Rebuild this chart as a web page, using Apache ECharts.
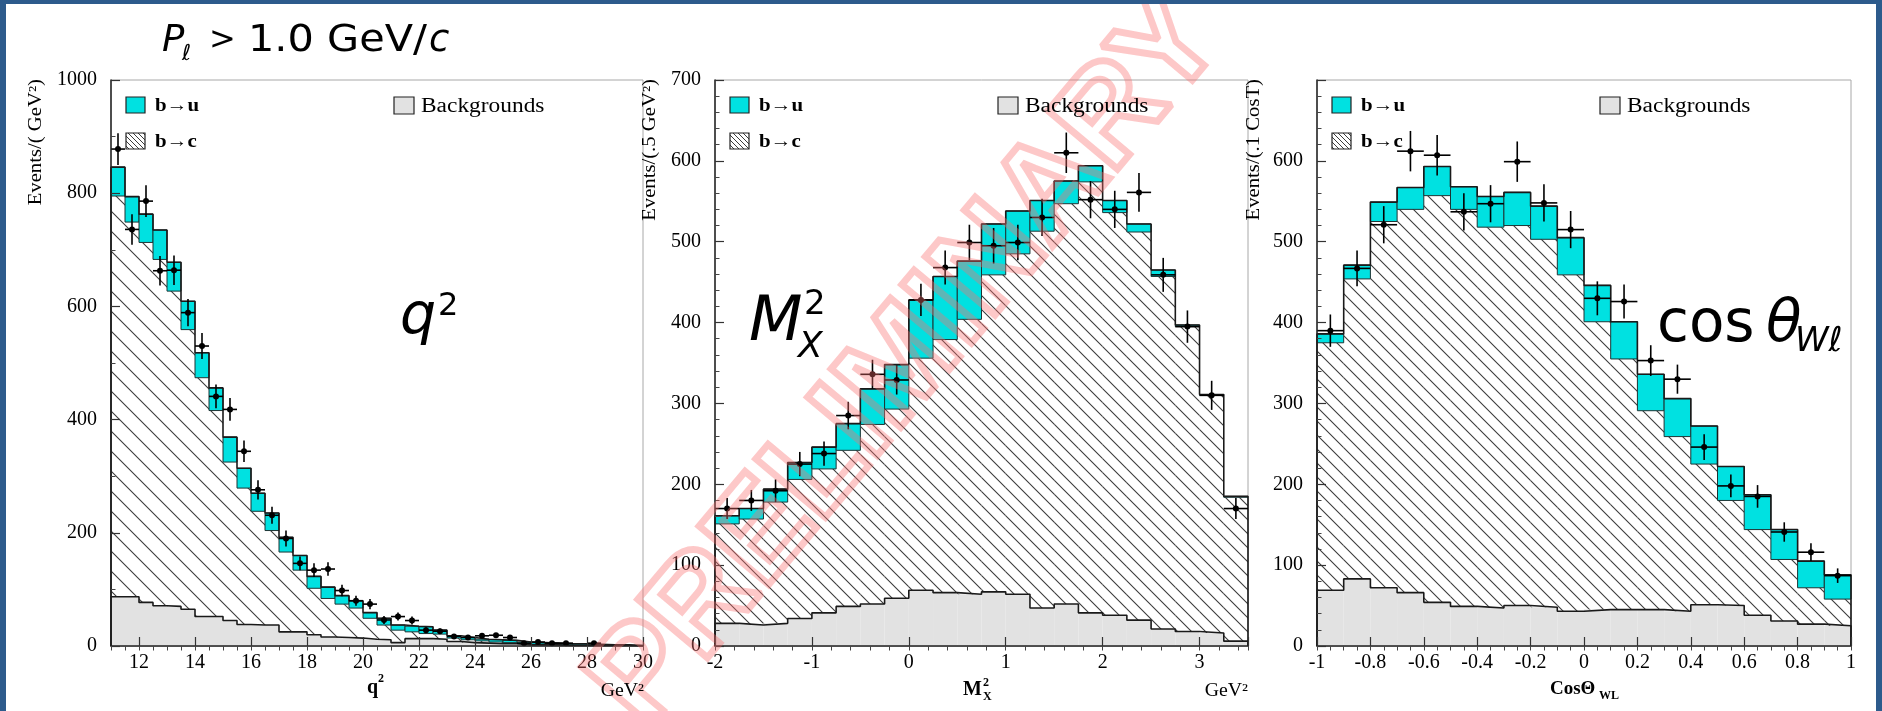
<!DOCTYPE html>
<html>
<head>
<meta charset="utf-8">
<script src="https://cdn.jsdelivr.net/npm/echarts@6.0.0/dist/echarts.min.js"></script>
<style>
html,body{margin:0;padding:0;background:#ffffff;}
#chart{width:1882px;height:711px;}
</style>
</head>
<body>
<div id="chart"></div>
<script>
// ================= DATA =================
// Panel 1: q^2 (bins of 0.5 GeV^2 starting at 11)
const q2BinStart = 11, q2BinWidth = 0.5;
const q2Bkg  = [87,87,77,71,70,65,52,52,45,38,37,37,25,25,20,16,15,14,12,11,6,13,13,12,8,6,5,4,4,2,2,2,1,1,1,1,1,0];
const q2BtoC = [708,662,636,612,557,494,422,364,280,241,201,167,141,109,82,68,59,53,37,26,22,12,9,9,6,5,4,3,2,2,1,1,1,1,1,0,0,1];
const q2BtoU = [51,45,50,52,51,50,44,40,44,35,32,31,26,26,21,20,15,13,10,12,9,10,12,7,4,4,3,4,4,3,3,2,2,2,1,1,1,0];
const q2Data = [878,736,786,663,664,589,530,441,418,344,276,231,190,146,134,136,98,80,74,46,52,45,28,26,17,15,18,19,15,5,7,5,5,null,5,null,null,null];
const q2Err  = [28,27,28,26,26,24,23,21,20,19,17,15,14,12,12,12,10,9,9,7,7,7,5,5,4,4,4,4,4,2,3,2,2,null,2,null,null,null];
const q2TickLabels = [12,14,16,18,20,22,24,26,28,30];

// Panel 2: M_X^2 (bins of 0.25 GeV^2 starting at -2)
const mxBinStart = -2, mxBinWidth = 0.25;
const mxBkg  = [28,26,28,34,41,49,52,59,69,66,64,67,64,47,52,41,38,32,21,18,16,6];
const mxBtoC = [123,131,150,172,178,193,222,234,287,313,340,392,421,466,495,533,498,480,436,377,294,178];
const mxBtoU = [10,13,16,21,27,33,44,55,72,78,72,63,53,38,28,20,15,10,8,2,1,1];
const mxData = [170,180,192,225,238,285,336,329,428,468,499,495,499,530,610,552,540,561,459,395,310,170];
const mxErr  = [13,13,14,15,15,17,18,18,20,21,22,22,22,23,25,23,23,24,21,20,18,13];

// Panel 3: cos(theta_Wl) (bins of 0.1 starting at -1)
const cwBinStart = -1, cwBinWidth = 0.1;
const cwBkg  = [69,83,72,66,54,49,47,50,48,43,45,45,45,43,51,50,38,31,27,25];
const cwBtoC = [306,371,453,474,503,491,471,470,455,416,356,310,246,216,174,130,106,76,45,33];
const cwBtoU = [11,17,24,27,36,28,38,41,41,46,45,46,45,47,47,42,43,37,33,30];
const cwData = [390,467,521,612,607,537,547,599,548,515,430,426,353,330,246,198,185,141,116,87];
const cwErr  = [20,22,23,25,25,23,23,25,23,23,21,21,19,18,16,14,14,12,11,9];

// ================= STYLE HELPERS =================
const CYAN = '#00e1e1', GREY = '#e2e2e2', BLUE = '#2d5b8c';
function hatchPattern(s, w) {
  const c = document.createElement('canvas');
  c.width = s; c.height = s;
  const g = c.getContext('2d');
  g.strokeStyle = '#3c3c3c'; g.lineWidth = w;
  g.beginPath();
  g.moveTo(-2, -2); g.lineTo(s + 2, s + 2);
  g.moveTo(s - 2, -2); g.lineTo(s + 2, 2);
  g.moveTo(-2, s - 2); g.lineTo(2, s + 2);
  g.stroke();
  return { image: c, repeat: 'repeat' };
}
const hatchWide = hatchPattern(20, 1.1);
const hatchNarrow = hatchPattern(14, 1.1);
const hatchLegend = hatchPattern(5, 1);

const grids = [
  { left: 111, top: 80, width: 532, height: 566 },
  { left: 715, top: 80, width: 533, height: 566 },
  { left: 1317, top: 80, width: 534, height: 566 }
];

function histSeries(idx, start, width, bkg, bc, bu, hatch) {
  const data = bkg.map((b, i) => [start + i * width, start + (i + 1) * width, b, b + bc[i], b + bc[i] + bu[i]]);
  return {
    type: 'custom', xAxisIndex: idx, yAxisIndex: idx, z: 2, silent: true,
    data: data, encode: { x: [0, 1], y: [2, 3, 4] },
    renderItem: function (params, api) {
      const x0 = api.value(0), x1 = api.value(1), b = api.value(2), c = api.value(3), t = api.value(4);
      const p0 = api.coord([x0, 0]), pb = api.coord([x1, b]), pc = api.coord([x1, c]), pt = api.coord([x1, t]);
      const L = p0[0], W = pb[0] - p0[0], base = p0[1];
      return { type: 'group', children: [
        { type: 'rect', shape: { x: L, y: pb[1], width: W, height: base - pb[1] }, style: { fill: GREY } },
        { type: 'rect', shape: { x: L, y: pc[1], width: W, height: pb[1] - pc[1] }, style: { fill: hatch } },
        { type: 'rect', shape: { x: L, y: pt[1], width: W, height: pc[1] - pt[1] }, style: { fill: CYAN, stroke: '#1d3535', lineWidth: 1 } }
      ] };
    }
  };
}

function stairSeries(idx, start, width, parts) {
  const pts = [[start, 0]];
  parts[0].forEach((v, i) => {
    let lvl = 0;
    parts.forEach(p => { lvl += p[i]; });
    pts.push([start + i * width, lvl]);
    pts.push([start + (i + 1) * width, lvl]);
  });
  pts.push([start + parts[0].length * width, 0]);
  return {
    type: 'line', xAxisIndex: idx, yAxisIndex: idx, z: 4, silent: true,
    data: pts, symbol: 'none', showSymbol: false,
    lineStyle: { color: '#1a1a1a', width: 1.6 }
  };
}

function pointSeries(idx, start, width, vals, errs) {
  const data = [];
  vals.forEach((v, i) => { if (v !== null) data.push([start + i * width, start + (i + 1) * width, v, errs[i]]); });
  return {
    type: 'custom', xAxisIndex: idx, yAxisIndex: idx, z: 6, silent: true,
    data: data, encode: { x: [0, 1], y: 2 },
    renderItem: function (params, api) {
      const x0 = api.value(0), x1 = api.value(1), v = api.value(2), e = api.value(3);
      const xm = (x0 + x1) / 2;
      const pl = api.coord([x0, v]), pr = api.coord([x1, v]);
      const pt = api.coord([xm, v + e]), pb = api.coord([xm, v - e]), pc = api.coord([xm, v]);
      return { type: 'group', children: [
        { type: 'line', shape: { x1: pl[0], y1: pl[1], x2: pr[0], y2: pr[1] }, style: { stroke: '#000', lineWidth: 1.6 } },
        { type: 'line', shape: { x1: pt[0], y1: pt[1], x2: pb[0], y2: pb[1] }, style: { stroke: '#000', lineWidth: 1.6 } },
        { type: 'circle', shape: { cx: pc[0], cy: pc[1], r: 3 }, style: { fill: '#000' } }
      ] };
    }
  };
}

const labelFont = { fontFamily: 'Liberation Serif', fontSize: 20, color: '#000' };
function mainX(idx, min, max, extra) {
  return Object.assign({
    type: 'value', gridIndex: idx, min: min, max: max, z: 10,
    axisLine: { show: true, onZero: false, lineStyle: { color: '#222', width: 1.5 } },
    axisTick: { show: true, inside: true, length: 9, lineStyle: { color: '#333', width: 1.2 } },
    axisLabel: Object.assign({ margin: 7 }, labelFont),
    splitLine: { show: false }
  }, extra);
}
function minorX(idx, min, max, step) {
  return {
    type: 'value', gridIndex: idx, min: min, max: max, interval: step, z: 10,
    axisLine: { show: false }, axisLabel: { show: false }, splitLine: { show: false },
    axisTick: { show: true, inside: true, length: 4.5, lineStyle: { color: '#444', width: 1 } }
  };
}
function mainY(idx, max, interval, minorSplit, fmt) {
  return {
    type: 'value', gridIndex: idx, min: 0, max: max, interval: interval, z: 10,
    axisLine: { show: true, onZero: false, lineStyle: { color: '#222', width: 1.5 } },
    axisTick: { show: true, inside: true, length: 9, lineStyle: { color: '#333', width: 1.2 } },
    minorTick: { show: true, splitNumber: minorSplit, length: 4.5, lineStyle: { color: '#444', width: 1 } },
    axisLabel: Object.assign({ margin: 14, formatter: fmt }, labelFont),
    splitLine: { show: false }
  };
}

// ================= GRAPHICS (text/annotations) =================
const G = [];
function txt(x, y, text, o) {
  G.push(Object.assign({ type: 'text', x: x, y: y, z: 50, silent: true,
    style: Object.assign({ text: text, fill: '#000', align: 'left', verticalAlign: 'middle' }, o.style) }, o.el || {}));
}
// blue frame strips
G.push({ type: 'rect', shape: { x: 0, y: 0, width: 6, height: 711 }, style: { fill: BLUE }, z: 60, silent: true });
G.push({ type: 'rect', shape: { x: 0, y: 0, width: 1882, height: 4 }, style: { fill: BLUE }, z: 60, silent: true });
G.push({ type: 'rect', shape: { x: 1876, y: 0, width: 6, height: 711 }, style: { fill: BLUE }, z: 60, silent: true });

// title  P_l > 1.0 GeV/c
txt(162, 41, 'P', { style: { font: 'italic 37px "DejaVu Sans"' } });
txt(182, 54, 'ℓ', { style: { font: 'italic 22px "DejaVu Sans"' } });
txt(209, 41, '>', { style: { font: '32px "DejaVu Sans"' } });
txt(248, 41, '1.0 GeV/', { style: { font: '37px "DejaVu Sans"' }, el: { scaleX: 1.12 } });
txt(429, 41, 'c', { style: { font: 'italic 37px "DejaVu Sans"' } });

// big variable labels
txt(400, 318, 'q', { style: { font: 'italic 57px "DejaVu Sans"' } });
txt(438, 307, '2', { style: { font: '32px "DejaVu Sans"' } });
txt(749, 324, 'M', { style: { font: 'italic 62px "DejaVu Sans"' } });
txt(804, 305, '2', { style: { font: '34px "DejaVu Sans"' } });
txt(798, 348, 'X', { style: { font: 'italic 36px "DejaVu Sans"' } });
txt(1657, 326, 'cos', { style: { font: '58px "DejaVu Sans"' } });
txt(1766, 326, 'θ', { style: { font: 'italic 58px "DejaVu Sans"' } });
txt(1795, 342, 'Wℓ', { style: { font: 'italic 34px "DejaVu Sans"' } });

// legends
grids.forEach(function (g) {
  const L = g.left;
  G.push({ type: 'rect', shape: { x: L + 15, y: 97, width: 19, height: 16 }, style: { fill: CYAN, stroke: '#222', lineWidth: 1.2 }, z: 50, silent: true });
  txt(L + 44, 106, 'b→u', { style: { font: 'bold 19px "Liberation Serif"' }, el: { scaleX: 1.1 } });
  G.push({ type: 'rect', shape: { x: L + 15, y: 133, width: 19, height: 16 }, style: { fill: hatchLegend, stroke: '#222', lineWidth: 1.2 }, z: 50, silent: true });
  txt(L + 44, 142, 'b→c', { style: { font: 'bold 19px "Liberation Serif"' }, el: { scaleX: 1.1 } });
  G.push({ type: 'rect', shape: { x: L + 283, y: 97, width: 20, height: 17 }, style: { fill: GREY, stroke: '#222', lineWidth: 1.2 }, z: 50, silent: true });
  txt(L + 310, 107, 'Backgrounds', { style: { font: '20px "Liberation Serif"' }, el: { scaleX: 1.17 } });
});

// y-axis names (rotated)
const yNames = [[36, 'Events/( GeV²)'], [650, 'Events/(.5 GeV²)'], [1254, 'Events/(.1 CosT)']];
yNames.forEach(function (n) {
  G.push({ type: 'text', x: n[0], y: 79, rotation: Math.PI / 2, scaleX: 1.15, z: 50, silent: true,
    style: { text: n[1], font: '18px "Liberation Serif"', fill: '#000', align: 'right', verticalAlign: 'middle' } });
});

// x-axis names
txt(367, 688, 'q', { style: { font: 'bold 20px "Liberation Serif"' } });
txt(378, 679, '2', { style: { font: 'bold 12px "Liberation Serif"' } });
txt(644, 691, 'GeV²', { style: { font: '18px "Liberation Serif"', align: 'right' }, el: { scaleX: 1.1 } });
txt(963, 690, 'M', { style: { font: 'bold 20px "Liberation Serif"' } });
txt(983, 683, '2', { style: { font: 'bold 12px "Liberation Serif"' } });
txt(983, 697, 'X', { style: { font: 'bold 12px "Liberation Serif"' } });
txt(1248, 691, 'GeV²', { style: { font: '18px "Liberation Serif"', align: 'right' }, el: { scaleX: 1.1 } });
txt(1550, 689, 'CosΘ', { style: { font: 'bold 19px "Liberation Serif"' } });
txt(1599, 696, 'WL', { style: { font: 'bold 12px "Liberation Serif"' } });

// PRELIMINARY watermark
G.push({ type: 'text', x: 908, y: 362, rotation: 50 * Math.PI / 180, z: 40, silent: true,
  style: { text: 'PRELIMINARY', font: 'bold 132px "Liberation Sans"', fill: 'rgba(255,255,255,0)',
    stroke: 'rgba(250,110,110,0.38)', lineWidth: 7, align: 'center', verticalAlign: 'middle' } });

// ================= CHART =================
const chart = echarts.init(document.getElementById('chart'), null, { renderer: 'canvas' });
chart.setOption({
  animation: false,
  backgroundColor: '#ffffff',
  grid: grids.map(g => Object.assign({ show: true, borderColor: '#a8a8a8', borderWidth: 1, backgroundColor: '#fff', containLabel: false }, g)),
  xAxis: [
    mainX(0, 11, 30, { axisLabel: Object.assign({ margin: 7, customValues: q2TickLabels }, labelFont), axisTick: { show: true, inside: true, length: 9, customValues: q2TickLabels, lineStyle: { color: '#333', width: 1.2 } } }),
    mainX(1, -2, 3.5, { interval: 1, axisLabel: Object.assign({ margin: 7, formatter: v => (Number.isInteger(v) ? String(v) : '') }, labelFont) }),
    mainX(2, -1, 1, { interval: 0.2, axisLabel: Object.assign({ margin: 7, formatter: v => String(Math.round(v * 10) / 10) }, labelFont) }),
    minorX(0, 11, 30, 0.5),
    minorX(1, -2, 3.5, 0.2),
    minorX(2, -1, 1, 0.05)
  ],
  yAxis: [
    mainY(0, 1000, 200, 2, v => String(v)),
    mainY(1, 700, 100, 5, v => String(v)),
    mainY(2, 700, 100, 5, v => (v === 700 ? '' : String(v)))
  ],
  series: [
    histSeries(0, q2BinStart, q2BinWidth, q2Bkg, q2BtoC, q2BtoU, hatchWide),
    stairSeries(0, q2BinStart, q2BinWidth, [q2Bkg]),
    stairSeries(0, q2BinStart, q2BinWidth, [q2Bkg, q2BtoC, q2BtoU]),
    pointSeries(0, q2BinStart, q2BinWidth, q2Data, q2Err),

    histSeries(1, mxBinStart, mxBinWidth, mxBkg, mxBtoC, mxBtoU, hatchNarrow),
    stairSeries(1, mxBinStart, mxBinWidth, [mxBkg]),
    stairSeries(1, mxBinStart, mxBinWidth, [mxBkg, mxBtoC, mxBtoU]),
    pointSeries(1, mxBinStart, mxBinWidth, mxData, mxErr),

    histSeries(2, cwBinStart, cwBinWidth, cwBkg, cwBtoC, cwBtoU, hatchNarrow),
    stairSeries(2, cwBinStart, cwBinWidth, [cwBkg]),
    stairSeries(2, cwBinStart, cwBinWidth, [cwBkg, cwBtoC, cwBtoU]),
    pointSeries(2, cwBinStart, cwBinWidth, cwData, cwErr)
  ],
  graphic: { elements: G }
});
</script>
</body>
</html>
